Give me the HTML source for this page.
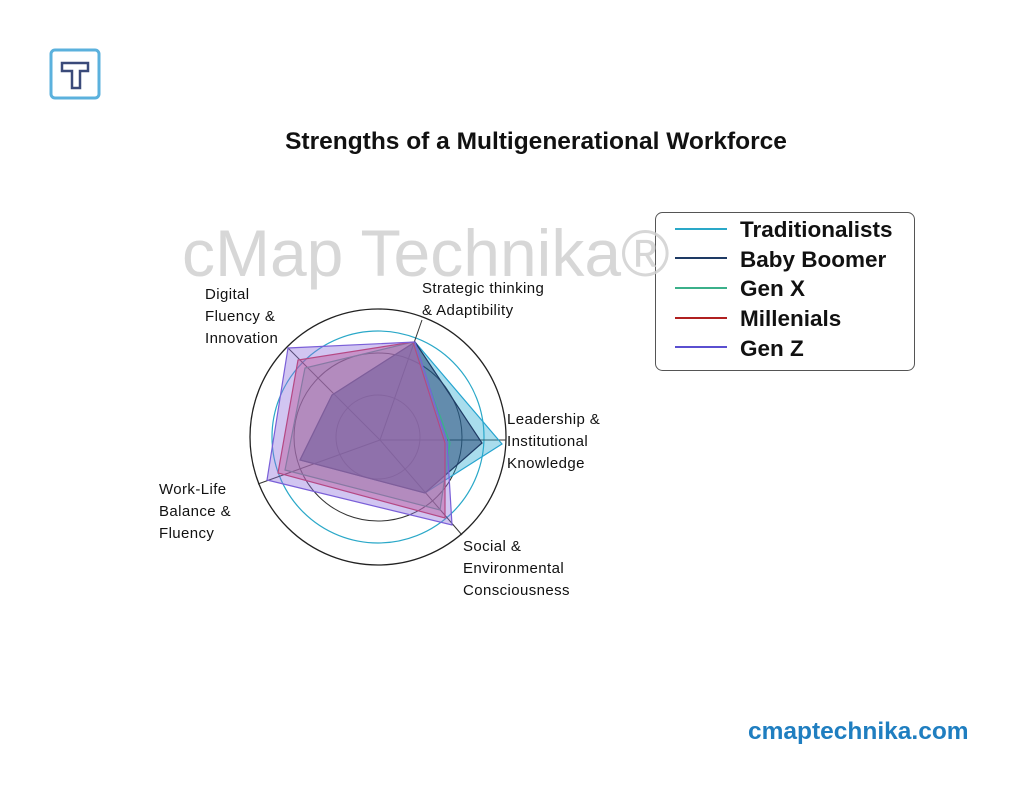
<!DOCTYPE html>
<html><head><meta charset="utf-8"><style>
body{margin:0;background:#fff;}
.w{position:relative;width:1024px;height:788px;overflow:hidden;font-family:"Liberation Sans",sans-serif;}
.t{position:absolute;white-space:nowrap;}
.l{font-size:15px;letter-spacing:0.4px;line-height:22px;color:#111;}
</style></head><body><div class="w">
<svg width="1024" height="788" style="position:absolute;left:0;top:0">
<rect x="51" y="50" width="48" height="48" rx="4" fill="none" stroke="#5bb1dd" stroke-width="3"/>
<path d="M62 63 H88 V71 H80 V88 H72 V71 H62 Z" fill="none" stroke="#3a4a7a" stroke-width="2.5"/>
<g fill="none">
<circle cx="378" cy="437" r="128" stroke="#222" stroke-width="1.3"/>
<circle cx="378" cy="437" r="106" stroke="#2aa8c8" stroke-width="1.2"/>
<circle cx="378" cy="437" r="84" stroke="#333" stroke-width="1"/>
<circle cx="378" cy="437" r="42" stroke="#555" stroke-width="1"/>
</g>
<g stroke="#333" stroke-width="1">
<line x1="380" y1="440" x2="422" y2="320"/>
<line x1="380" y1="440" x2="506" y2="440"/>
<line x1="380" y1="440" x2="462" y2="535"/>
<line x1="380" y1="440" x2="258" y2="484"/>
<line x1="380" y1="440" x2="288" y2="348"/>
</g>
<polygon points="415,342 502,444 425,493 300,460 332,395" fill="rgba(40,170,210,0.4)" stroke="#26a4cf" stroke-width="1.2"/>
<polygon points="415,342 482,443 425,493 300,460 332,395" fill="rgba(30,60,110,0.5)" stroke="#1e3a64" stroke-width="1.2"/>
<polygon points="413,342 450,443 440,510 285,470 305,368" fill="rgba(60,180,140,0.3)" stroke="#3bb08a" stroke-width="1.2"/>
<polygon points="413,342 445,443 445,518 278,473 298,360" fill="rgba(220,70,110,0.45)" stroke="#d0304a" stroke-width="1.2"/>
<polygon points="415,342 447,442 452,525 267,480 288,348" fill="rgba(140,110,220,0.4)" stroke="#7a5fd8" stroke-width="1.2"/>
<rect x="655.5" y="212.5" width="259" height="158" rx="7" fill="#fff" stroke="#555" stroke-width="1"/>
<line x1="675" y1="229" x2="727" y2="229" stroke="#2aa8c8" stroke-width="2"/>
<line x1="675" y1="258" x2="727" y2="258" stroke="#1e3a64" stroke-width="2"/>
<line x1="675" y1="288" x2="727" y2="288" stroke="#3bb08a" stroke-width="2"/>
<line x1="675" y1="318" x2="727" y2="318" stroke="#b02020" stroke-width="2"/>
<line x1="675" y1="347" x2="727" y2="347" stroke="#5a4fd0" stroke-width="2"/>
<text x="182" y="276" font-family="Liberation Sans,sans-serif" font-size="66" fill="#d0d0d0" fill-opacity="0.85">cMap Technika®</text>
</svg>
<div class="t" style="left:0;width:1072px;text-align:center;top:128px;font-size:24.5px;font-weight:bold;color:#111;">Strengths of a Multigenerational Workforce</div>
<div class="t" style="left:740px;top:215px;font-size:22.5px;font-weight:bold;line-height:29.7px;color:#111;">Traditionalists<br>Baby Boomer<br>Gen X<br>Millenials<br>Gen Z</div>
<div class="t l" style="left:205px;top:284px;">Digital<br>Fluency &amp;<br>Innovation</div>
<div class="t l" style="left:422px;top:278px;">Strategic thinking<br>&amp; Adaptibility</div>
<div class="t l" style="left:507px;top:409px;">Leadership &amp;<br>Institutional<br>Knowledge</div>
<div class="t l" style="left:159px;top:479px;">Work-Life<br>Balance &amp;<br>Fluency</div>
<div class="t l" style="left:463px;top:536px;">Social &amp;<br>Environmental<br>Consciousness</div>
<div class="t" style="left:748px;top:718px;font-size:24.5px;font-weight:bold;color:#1f7ec0;">cmaptechnika.com</div>
</div></body></html>
